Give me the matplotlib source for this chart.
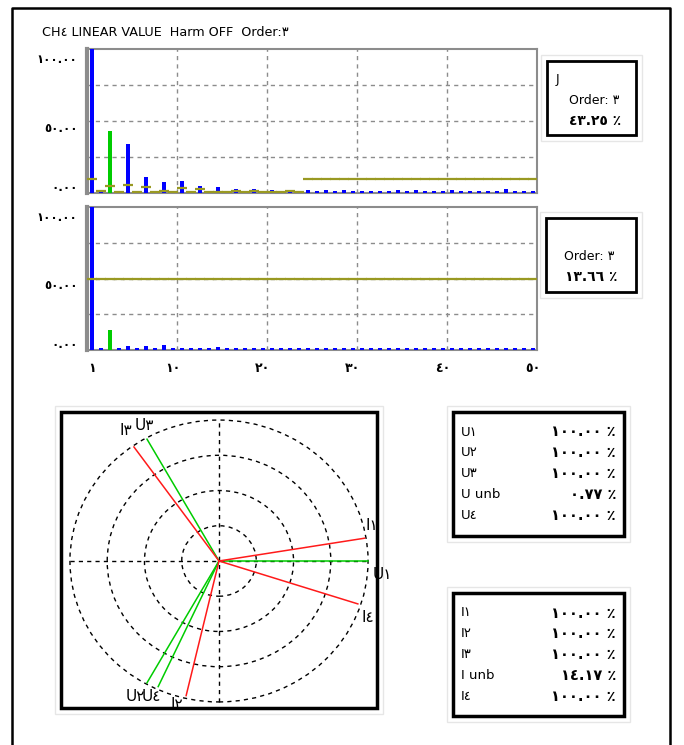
import matplotlib
matplotlib.use('Agg')
import matplotlib.pyplot as plt
import numpy as np
from matplotlib.patches import Rectangle, Circle
from matplotlib.lines import Line2D

plt.rcParams['font.family'] = ['Liberation Sans Narrow', 'DejaVu Sans']

# ---- data ----
harmonics = list(range(1, 51))
# top spectrum (% of fundamental)
top_vals = [100, 1.5, 43.25, 1.2, 34, 1.2, 11, 1.2, 7.5, 1.2,
            8.5, 1.2, 5, 1.2, 4, 1.2, 2.8, 1.2, 2.8, 1.2,
            2, 1.2, 1.8, 1.2, 2, 1.2, 2, 1.2, 2.2, 1.2,
            1.2, 1.2, 1.2, 1.2, 2, 1.2, 1.8, 1.2, 1.5, 1.2,
            1.8, 1.2, 1.5, 1.2, 1.5, 1.2, 2.6, 1.2, 1.2, 1.2]
top_limits = [10, 1.6, 4.6, 0.4, 5.5, 0.4, 4.4, 0.4, 1.6, 0.4,
              3.5, 0.4, 2.5, 0.4, 0.4, 0.4, 1.6, 0.4, 1.6, 0.4,
              0.4, 0.4, 1.6, 0.4, 9.5, 9.5, 9.5, 9.5, 9.5, 9.5,
              9.5, 9.5, 9.5, 9.5, 9.5, 9.5, 9.5, 9.5, 9.5, 9.5,
              9.5, 9.5, 9.5, 9.5, 9.5, 9.5, 9.5, 9.5, 9.5, 9.5]
# bottom spectrum
bot_vals = [100, 1.2, 13.66, 1.2, 2.8, 1.2, 2.8, 1.2, 3.8, 1.2,
            1.5, 1.2, 1.2, 1.2, 1.8, 1.2, 1.2, 1.2, 1.2, 1.2,
            1.2, 1.2, 1.2, 1.2, 1.2, 1.2, 1.2, 1.2, 1.2, 1.2,
            1.2, 1.2, 1.2, 1.2, 1.2, 1.2, 1.2, 1.2, 1.2, 1.2,
            1.2, 1.2, 1.2, 1.2, 1.2, 1.2, 1.2, 1.2, 1.2, 1.2]
bot_limits = [50] * 50
selected_order = 3
x_ticks = [1, 10, 20, 30, 40, 50]

# phasors: name, angle (deg), magnitude (fraction of full scale)
phasor_names = ['U1', 'U2', 'U3', 'U4', 'I1', 'I2', 'I3', 'I4']
phasor_angles = [0, 240.8, 119.2, 245.4, 9.4, 257, 125.2, -18.1]
phasor_mags = [1.0, 0.99, 0.99, 0.98, 0.99, 0.98, 0.99, 0.98]
# label offset in pixels from the phasor tip
phasor_label_off = [(14, -14), (-12, -14), (-3, 14), (-7, -10),
                    (7, 13), (-9, -9), (-8, 16), (10, -14)]

u_names = ['U1', 'U2', 'U3', 'U unb', 'U4']
u_vals = [100.00, 100.00, 100.00, 0.77, 100.00]
i_names = ['I1', 'I2', 'I3', 'I unb', 'I4']
i_vals = [100.00, 100.00, 100.00, 14.17, 100.00]

AR = str.maketrans('0123456789', '٠١٢٣٤٥٦٧٨٩')


def ar(s):
    return str(s).translate(AR)


W, H = 684, 745
BLUE = '#0000ff'
GREEN = '#00cc00'
OLIVE = '#999922'
GRID = '#8c8c8c'


def box(x0, y0, x1, y1):
    return [x0 / W, 1 - y1 / H, (x1 - x0) / W, (y1 - y0) / H]


def ftext(x, y, s, **kw):
    fig.text(x / W, 1 - y / H, s, **kw)


def frame_box(x0, y0, x1, y1, lw=2):
    # light shadow + black border
    fig.add_artist(Rectangle(((x0 - 6) / W, 1 - (y1 + 6) / H),
                             (x1 - x0 + 12) / W, (y1 - y0 + 12) / H,
                             transform=fig.transFigure, fc='white', ec='#e6e6e6', lw=1, zorder=0))
    fig.add_artist(Rectangle((x0 / W, 1 - y1 / H), (x1 - x0) / W, (y1 - y0) / H,
                             transform=fig.transFigure, fc='none', ec='black', lw=lw, zorder=5))


fig = plt.figure(figsize=(6.84, 7.45), dpi=100)

# outer frame
fig.add_artist(Line2D([12 / W, 12 / W, 670 / W, 670 / W], [0, 1 - 8 / H, 1 - 8 / H, 0],
                      transform=fig.transFigure, color='black', lw=1.8))

ftext(42, 32, 'CH' + ar(4) + ' LINEAR VALUE  Harm OFF  Order:' + ar(selected_order),
      fontsize=9.2, va='center', ha='left')


def spectrum(rect, vals, limits, show_x):
    ax = fig.add_axes(rect)
    h = np.array(harmonics)
    colors = [GREEN if n == selected_order else BLUE for n in harmonics]
    ax.bar(h, vals, width=0.5, color=colors, zorder=3)
    ax.hlines(limits, h - 0.6, h + 0.6, color=OLIVE, lw=1.6, zorder=4)
    for yv in [25, 50, 75]:
        ax.axhline(yv, color=GRID, lw=1, ls=(0, (3, 3)), zorder=1)
    for xv in [10.5, 20.5, 30.5, 40.5]:
        ax.axvline(xv, color=GRID, lw=1, ls=(0, (3, 3)), zorder=1)
    ax.set_xlim(0.45, 50.45)
    ax.set_ylim(0, 100)
    for sp in ax.spines.values():
        sp.set_color(GRID)
        sp.set_linewidth(1.5)
        sp.set_zorder(2)
    ax.spines['left'].set_linewidth(3)
    ax.set_yticks([5, 46, 94])
    ax.set_yticklabels([ar('0.00'), ar('50.00'), ar('100.00')], fontsize=8.5, fontweight='bold')
    ax.tick_params(axis='y', length=0, pad=7)
    ax.set_xticks(x_ticks)
    if show_x:
        ax.set_xticklabels([ar(t) for t in x_ticks], fontsize=9, fontweight='bold')
        ax.tick_params(axis='x', length=0, pad=9)
    else:
        ax.set_xticklabels([])
        ax.tick_params(axis='x', length=0)
    return ax


spectrum(box(87, 49, 537, 193), top_vals, top_limits, False)
spectrum(box(87, 207, 537, 350), bot_vals, bot_limits, True)

# info boxes for selected order
frame_box(547, 61, 636, 135)
ftext(556, 79, 'J', fontsize=9, ha='left', va='center')
ftext(594, 101, 'Order: ' + ar(selected_order), fontsize=9, ha='center', va='center')
ftext(595, 121, ar('%.2f' % top_vals[selected_order - 1]) + ' ٪', fontsize=10, fontweight='bold',
      ha='center', va='center')

frame_box(546, 218, 636, 292)
ftext(589, 257, 'Order: ' + ar(selected_order), fontsize=9, ha='center', va='center')
ftext(591, 277, ar('%.2f' % bot_vals[selected_order - 1]) + ' ٪', fontsize=10, fontweight='bold',
      ha='center', va='center')

# phasor diagram
frame_box(61, 412, 377, 708, lw=2.5)
axp = fig.add_axes(box(61, 412, 377, 708))
axp.set_xlim(-1.06, 1.06)
axp.set_ylim(-1.043, 1.057)
axp.axis('off')
for r in [0.25, 0.5, 0.75, 1.0]:
    axp.add_patch(Circle((0, 0), r, fill=False, ec='black', lw=1, ls=(0, (3, 3))))
axp.plot([-1, 1], [0, 0], color='black', lw=1, ls=(0, (3, 3)))
axp.plot([0, 0], [-1, 1], color='black', lw=1, ls=(0, (3, 3)))
for name, ang, mag, off in zip(phasor_names, phasor_angles, phasor_mags, phasor_label_off):
    a = np.deg2rad(ang)
    x, y = mag * np.cos(a), mag * np.sin(a)
    col = GREEN if name.startswith('U') else '#ff1a1a'
    axp.plot([0, x], [0, y], color=col, lw=1.1)
    axp.annotate(name[0] + ar(name[1:]), (x, y), xytext=off, textcoords='offset pixels',
                 ha='center', va='center', fontsize=11, annotation_clip=False)

# tables
for (y0, y1), names, vals in [((412, 536), u_names, u_vals), ((593, 716), i_names, i_vals)]:
    frame_box(453, y0, 624, y1, lw=2.5)
    for k, (n, v) in enumerate(zip(names, vals)):
        yy = y0 + 20 + k * 20.8
        ftext(461, yy, n[0] + ar(n[1:]), fontsize=9.5, ha='left', va='center')
        ftext(616, yy, ar('%.2f' % v) + ' ٪', fontsize=10.5, fontweight='bold', ha='right', va='center')

fig.savefig('out.png', dpi=100)
